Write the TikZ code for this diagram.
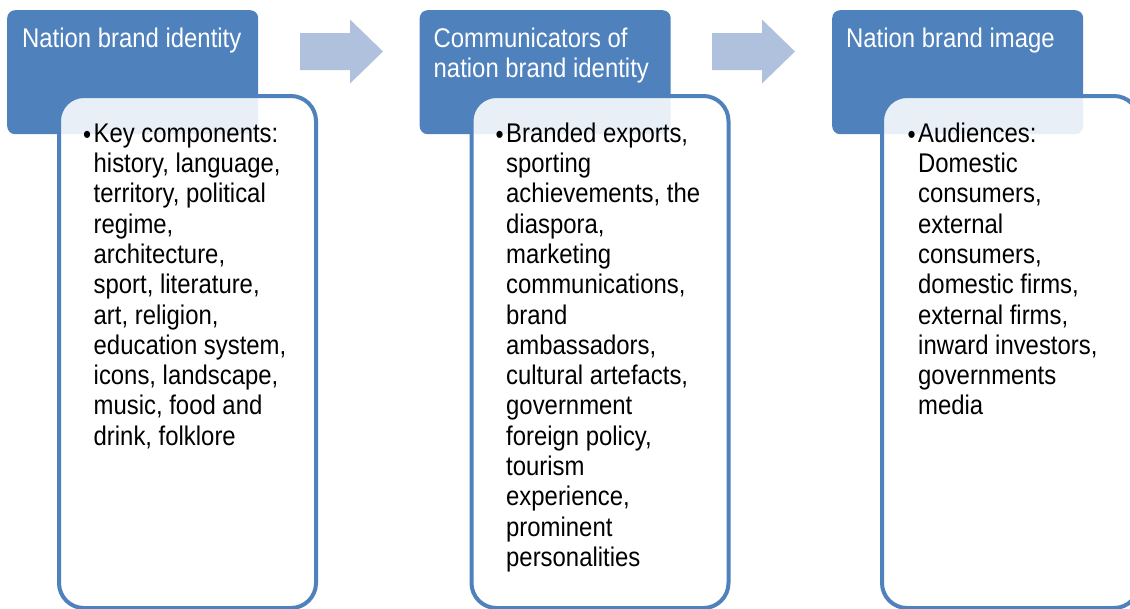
\documentclass[tikz,border=0pt]{standalone}
\usepackage{fontspec}
\setmainfont{Liberation Sans}[FakeStretch=0.885]
\definecolor{hblue}{HTML}{4F81BD}
\definecolor{arrowblue}{HTML}{B0C1DE}
\newcommand{\bul}{\llap{\raisebox{-1.5pt}{\fontsize{26}{26}\selectfont •}\hspace{2.5pt}}}
\begin{document}
\begin{tikzpicture}[x=1pt,y=-1pt,
  hdr/.style={fill=hblue, draw=none, rounded corners=8pt, minimum width=251pt, minimum height=124pt, anchor=north west, inner sep=0pt},
  bodybox/.style={draw=hblue, line width=4pt, fill=white, fill opacity=0.88, draw opacity=1, rounded corners=25pt, minimum width=257pt, minimum height=512pt, anchor=north west, inner sep=0pt},
  htext/.style={anchor=north west, inner sep=0pt, align=left, text=white, font=\fontsize{27}{30.3}\selectfont},
  btext/.style={anchor=north west, inner sep=0pt, align=left, text=black, font=\fontsize{27}{30.3}\selectfont},
  arrowfill/.style={fill=arrowblue, draw=none}]
\useasboundingbox (0,0) rectangle (1130,608);
\clip (0,0) rectangle (1130,608);
% headers
\node[hdr] (h1) at (7,10) {};
\node[hdr] (h2) at (419.5,10) {};
\node[hdr] (h3) at (832,10) {};
% arrows
\fill[arrowfill] (300,33) -- (350,33) -- (350,19.5) -- (383,51.5) -- (350,83.5) -- (350,70) -- (300,70) -- cycle;
\fill[arrowfill] (712,33) -- (762,33) -- (762,19.5) -- (795,51.5) -- (762,83.5) -- (762,70) -- (712,70) -- cycle;
% header texts
\node[htext] (ht1) at (22,25.8) {\strut Nation brand identity};
\node[htext] (ht2) at (433.5,25.8) {\strut Communicators of\\nation brand identity};
\node[htext] (ht3) at (846,25.8) {\strut Nation brand image};
% bodies
\node[bodybox] (b1) at (57,94) {};
\node[bodybox] (b2) at (469.5,94) {};
\node[bodybox] (b3) at (880,94) {};
% body texts
\node[btext] (bt1) at (93.5,120.8) {\strut\bul Key components:\\history, language,\\territory, political\\regime,\\architecture,\\sport, literature,\\art, religion,\\education system,\\icons, landscape,\\music, food and\\drink, folklore};
\node[btext] (bt2) at (506,120.8) {\strut\bul Branded exports,\\sporting\\achievements, the\\diaspora,\\marketing\\communications,\\brand\\ambassadors,\\cultural artefacts,\\government\\foreign policy,\\tourism\\experience,\\prominent\\personalities};
\node[btext] (bt3) at (918,120.8) {\strut\bul Audiences:\\Domestic\\consumers,\\external\\consumers,\\domestic firms,\\external firms,\\inward investors,\\governments\\media};
\end{tikzpicture}
\end{document}
